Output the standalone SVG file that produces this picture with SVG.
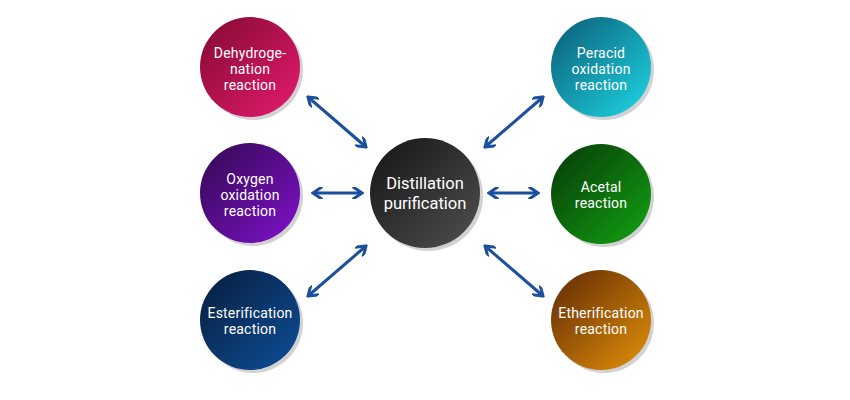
<svg xmlns="http://www.w3.org/2000/svg" width="850" height="400" viewBox="0 0 850 400">
<style>
.lbl{font-family:Roboto,"Liberation Sans",sans-serif;font-size:14px;font-weight:400;fill:#fff;text-anchor:middle;letter-spacing:0.2px}
.big{font-size:16.5px;letter-spacing:0}
.shadow{fill:#d2d2d2}
.conn line{stroke:#1c4f9c;stroke-width:3;fill:none;marker-start:url(#ah);marker-end:url(#ah)}
</style>
<defs>
<marker id="ah" viewBox="0 0 12 12" refX="10" refY="6" markerWidth="12" markerHeight="12" markerUnits="userSpaceOnUse" orient="auto-start-reverse">
<path d="M2,0.5 L10,6 L2,11.5" fill="none" stroke="#1c4f9c" stroke-width="3" stroke-linecap="square"/>
</marker>
<linearGradient id="gRed" x1="0" y1="0" x2="1" y2="1"><stop offset="0" stop-color="#820a30"/><stop offset="1" stop-color="#e61a70"/></linearGradient>
<linearGradient id="gPur" x1="0" y1="0" x2="1" y2="1"><stop offset="0" stop-color="#32084f"/><stop offset="1" stop-color="#8012cc"/></linearGradient>
<linearGradient id="gBlu" x1="0" y1="0" x2="1" y2="1"><stop offset="0" stop-color="#071d3c"/><stop offset="1" stop-color="#0e4f99"/></linearGradient>
<linearGradient id="gCya" x1="0" y1="0" x2="1" y2="1"><stop offset="0" stop-color="#0b5a75"/><stop offset="1" stop-color="#1ed8e6"/></linearGradient>
<linearGradient id="gGrn" x1="0" y1="0" x2="1" y2="1"><stop offset="0" stop-color="#083808"/><stop offset="1" stop-color="#12a312"/></linearGradient>
<linearGradient id="gOra" x1="0" y1="0" x2="1" y2="1"><stop offset="0" stop-color="#602805"/><stop offset="1" stop-color="#e39208"/></linearGradient>
<linearGradient id="gBlk" x1="0" y1="0" x2="1" y2="1"><stop offset="0" stop-color="#141414"/><stop offset="1" stop-color="#505050"/></linearGradient>
</defs>
<g class="conn" id="connectors">
<line x1="308" y1="97" x2="366" y2="147"/>
<line x1="313" y1="193" x2="362" y2="193"/>
<line x1="308" y1="296" x2="366" y2="246"/>
<line x1="543" y1="97" x2="485" y2="147"/>
<line x1="538" y1="193" x2="489" y2="193"/>
<line x1="543" y1="296" x2="485" y2="246"/>
</g>
<g id="center">
<circle class="shadow" cx="428" cy="196" r="55"/>
<circle cx="425" cy="193" r="55" fill="url(#gBlk)"/>
<text class="lbl big" x="425" y="189">Distillation</text>
<text class="lbl big" x="425" y="209">purification</text>
</g>
<g id="dehydrogenation">
<circle class="shadow" cx="253" cy="70" r="50"/>
<circle cx="250" cy="67" r="50" fill="url(#gRed)"/>
<text class="lbl" x="250" y="58">Dehydroge-</text>
<text class="lbl" x="250" y="74">nation</text>
<text class="lbl" x="250" y="90">reaction</text>
</g>
<g id="oxygen">
<circle class="shadow" cx="253" cy="196" r="50"/>
<circle cx="250" cy="193" r="50" fill="url(#gPur)"/>
<text class="lbl" x="250" y="184">Oxygen</text>
<text class="lbl" x="250" y="200">oxidation</text>
<text class="lbl" x="250" y="216">reaction</text>
</g>
<g id="esterification">
<circle class="shadow" cx="253" cy="323" r="50"/>
<circle cx="250" cy="320" r="50" fill="url(#gBlu)"/>
<text class="lbl" x="250" y="318">Esterification</text>
<text class="lbl" x="250" y="334">reaction</text>
</g>
<g id="peracid">
<circle class="shadow" cx="604" cy="70" r="50"/>
<circle cx="601" cy="67" r="50" fill="url(#gCya)"/>
<text class="lbl" x="601" y="58">Peracid</text>
<text class="lbl" x="601" y="74">oxidation</text>
<text class="lbl" x="601" y="90">reaction</text>
</g>
<g id="acetal">
<circle class="shadow" cx="604" cy="197" r="50"/>
<circle cx="601" cy="194" r="50" fill="url(#gGrn)"/>
<text class="lbl" x="601" y="192">Acetal</text>
<text class="lbl" x="601" y="208">reaction</text>
</g>
<g id="etherification">
<circle class="shadow" cx="604" cy="323" r="50"/>
<circle cx="601" cy="320" r="50" fill="url(#gOra)"/>
<text class="lbl" x="601" y="318">Etherification</text>
<text class="lbl" x="601" y="334">reaction</text>
</g>
</svg>
